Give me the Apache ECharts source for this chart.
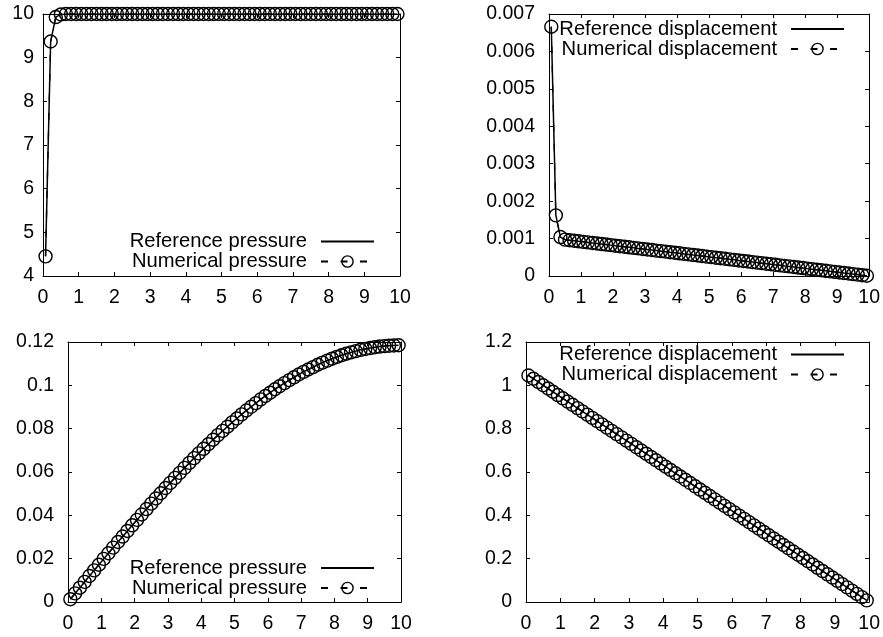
<!DOCTYPE html>
<html>
<head>
<meta charset="utf-8">
<script src="https://cdn.jsdelivr.net/npm/echarts@6/dist/echarts.min.js"></script>
<style>
html,body{margin:0;padding:0;background:#fff;}
#chart{width:883px;height:637px;}
</style>
</head>
<body>
<div id="chart"></div>
<script>
// ---- data ----
const xTicks = [0,1,2,3,4,5,6,7,8,9,10];
const xPts = [0.0714,0.2143,0.3571,0.5,0.6429,0.7857,0.9286,1.0714,1.2143,1.3571,
1.5,1.6429,1.7857,1.9286,2.0714,2.2143,2.3571,2.5,2.6429,2.7857,
2.9286,3.0714,3.2143,3.3571,3.5,3.6429,3.7857,3.9286,4.0714,4.2143,
4.3571,4.5,4.6429,4.7857,4.9286,5.0714,5.2143,5.3571,5.5,5.6429,
5.7857,5.9286,6.0714,6.2143,6.3571,6.5,6.6429,6.7857,6.9286,7.0714,
7.2143,7.3571,7.5,7.6429,7.7857,7.9286,8.0714,8.2143,8.3571,8.5,
8.6429,8.7857,8.9286,9.0714,9.2143,9.3571,9.5,9.6429,9.7857,9.9286];

// top-left: pressure (early time)
const refPressureA = [4.45,9.37,9.93,9.99,10,10,10,10,10,10,
10,10,10,10,10,10,10,10,10,10,10,10,10,10,10,10,10,10,10,10,
10,10,10,10,10,10,10,10,10,10,10,10,10,10,10,10,10,10,10,10,
10,10,10,10,10,10,10,10,10,10,10,10,10,10,10,10,10,10,10,10];
const numPressureA = [4.45,9.37,9.93,9.99,10,10,10,10,10,10,
10,10,10,10,10,10,10,10,10,10,10,10,10,10,10,10,10,10,10,10,
10,10,10,10,10,10,10,10,10,10,10,10,10,10,10,10,10,10,10,10,
10,10,10,10,10,10,10,10,10,10,10,10,10,10,10,10,10,10,10,10];

// top-right: displacement (early time)
const refDispA = [0.00666,0.00162,0.00104,
0.000971,0.000956,0.000942,0.000927,0.000913,0.000898,0.000883,0.000869,0.000854,0.000840,
0.000825,0.000810,0.000796,0.000781,0.000767,0.000752,0.000737,0.000723,0.000708,0.000694,
0.000679,0.000664,0.000650,0.000635,0.000621,0.000606,0.000591,0.000577,0.000562,0.000548,
0.000533,0.000518,0.000504,0.000489,0.000475,0.000460,0.000445,0.000431,0.000416,0.000402,
0.000387,0.000372,0.000358,0.000343,0.000329,0.000314,0.000299,0.000285,0.000270,0.000256,
0.000241,0.000226,0.000212,0.000197,0.000183,0.000168,0.000153,0.000139,0.000124,0.000110,
0.000095,0.000080,0.000066,0.000051,0.000037,0.000022,0.000007];
const numDispA = [0.00666,0.00162,0.00104,
0.000971,0.000956,0.000942,0.000927,0.000913,0.000898,0.000883,0.000869,0.000854,0.000840,
0.000825,0.000810,0.000796,0.000781,0.000767,0.000752,0.000737,0.000723,0.000708,0.000694,
0.000679,0.000664,0.000650,0.000635,0.000621,0.000606,0.000591,0.000577,0.000562,0.000548,
0.000533,0.000518,0.000504,0.000489,0.000475,0.000460,0.000445,0.000431,0.000416,0.000402,
0.000387,0.000372,0.000358,0.000343,0.000329,0.000314,0.000299,0.000285,0.000270,0.000256,
0.000241,0.000226,0.000212,0.000197,0.000183,0.000168,0.000153,0.000139,0.000124,0.000110,
0.000095,0.000080,0.000066,0.000051,0.000037,0.000022,0.000007];

// bottom-left: pressure (late time)
const refPressureB = [0.0013,0.0040,0.0066,0.0093,0.0120,0.0146,0.0172,0.0199,0.0225,0.0251,
0.0277,0.0302,0.0328,0.0354,0.0379,0.0404,0.0429,0.0454,0.0478,0.0502,
0.0526,0.0550,0.0573,0.0596,0.0619,0.0642,0.0664,0.0686,0.0707,0.0728,
0.0749,0.0770,0.0790,0.0809,0.0829,0.0847,0.0866,0.0884,0.0901,0.0918,
0.0935,0.0951,0.0966,0.0982,0.0996,0.1010,0.1024,0.1037,0.1050,0.1062,
0.1073,0.1084,0.1095,0.1105,0.1114,0.1123,0.1131,0.1139,0.1146,0.1152,
0.1158,0.1164,0.1168,0.1172,0.1176,0.1179,0.1181,0.1183,0.1184,0.1185];
const numPressureB = [0.0013,0.0040,0.0066,0.0093,0.0120,0.0146,0.0172,0.0199,0.0225,0.0251,
0.0277,0.0302,0.0328,0.0354,0.0379,0.0404,0.0429,0.0454,0.0478,0.0502,
0.0526,0.0550,0.0573,0.0596,0.0619,0.0642,0.0664,0.0686,0.0707,0.0728,
0.0749,0.0770,0.0790,0.0809,0.0829,0.0847,0.0866,0.0884,0.0901,0.0918,
0.0935,0.0951,0.0966,0.0982,0.0996,0.1010,0.1024,0.1037,0.1050,0.1062,
0.1073,0.1084,0.1095,0.1105,0.1114,0.1123,0.1131,0.1139,0.1146,0.1152,
0.1158,0.1164,0.1168,0.1172,0.1176,0.1179,0.1181,0.1183,0.1184,0.1185];

// bottom-right: displacement (late time)
const refDispB = [1.0455,1.0304,1.0154,1.0003,0.9853,0.9703,0.9552,0.9402,0.9251,0.9101,
0.8950,0.8800,0.8650,0.8499,0.8349,0.8198,0.8048,0.7897,0.7747,0.7597,
0.7446,0.7296,0.7145,0.6995,0.6844,0.6694,0.6544,0.6393,0.6243,0.6092,
0.5942,0.5791,0.5641,0.5491,0.5340,0.5190,0.5039,0.4889,0.4738,0.4588,
0.4438,0.4287,0.4137,0.3986,0.3836,0.3685,0.3535,0.3385,0.3234,0.3084,
0.2933,0.2783,0.2632,0.2482,0.2332,0.2181,0.2031,0.1880,0.1730,0.1579,
0.1429,0.1279,0.1128,0.0978,0.0827,0.0677,0.0526,0.0376,0.0226,0.0075];
const numDispB = [1.0455,1.0304,1.0154,1.0003,0.9853,0.9703,0.9552,0.9402,0.9251,0.9101,
0.8950,0.8800,0.8650,0.8499,0.8349,0.8198,0.8048,0.7897,0.7747,0.7597,
0.7446,0.7296,0.7145,0.6995,0.6844,0.6694,0.6544,0.6393,0.6243,0.6092,
0.5942,0.5791,0.5641,0.5491,0.5340,0.5190,0.5039,0.4889,0.4738,0.4588,
0.4438,0.4287,0.4137,0.3986,0.3836,0.3685,0.3535,0.3385,0.3234,0.3084,
0.2933,0.2783,0.2632,0.2482,0.2332,0.2181,0.2031,0.1880,0.1730,0.1579,
0.1429,0.1279,0.1128,0.0978,0.0827,0.0677,0.0526,0.0376,0.0226,0.0075];

const names = {
  refP: 'Reference pressure', numP: 'Numerical pressure',
  refD: 'Reference displacement', numD: 'Numerical displacement'
};

// ---- styling / layout ----
const FONT = 'Liberation Sans';
const FS = 19.5;
const LFS = 20.2;
const panels = [
  {grid:{left:43, right:483, top:14, bottom:361}, y:{min:4, max:10, interval:1, fmt:v=>String(v), margin:9},
   ref:refPressureA, num:numPressureA, refName:names.refP, numName:names.numP, legend:{right:508, top:231.5}},
  {grid:{left:549, right:13, top:14, bottom:361}, y:{min:0, max:0.007, interval:0.001, fmt:v=>v===0?'0':v.toFixed(3), margin:14},
   ref:refDispA, num:numDispA, refName:names.refD, numName:names.numD, legend:{right:38, top:19}},
  {grid:{left:68, right:482, top:342, bottom:35}, y:{min:0, max:0.12, interval:0.02, fmt:v=>String(+v.toFixed(2)), margin:14},
   ref:refPressureB, num:numPressureB, refName:names.refP, numName:names.numP, legend:{right:508, top:558}},
  {grid:{left:526, right:13, top:342, bottom:35}, y:{min:0, max:1.2, interval:0.2, fmt:v=>String(+v.toFixed(1)), margin:14},
   ref:refDispB, num:numDispB, refName:names.refD, numName:names.numD, legend:{right:38, top:344.5}}
];

const axisLine = {show:true, onZero:false, lineStyle:{color:'#000', width:1}};
const axisTick = {show:true, inside:true, length:4, lineStyle:{color:'#000', width:1}};
const labelStyle = {color:'#000', fontSize:FS, fontFamily:FONT};

const option = {animation:false, backgroundColor:'#fff', grid:[], xAxis:[], yAxis:[], series:[], legend:[]};

panels.forEach((p, i) => {
  option.grid.push(Object.assign({containLabel:false}, p.grid));
  option.xAxis.push({gridIndex:i, type:'value', min:xTicks[0], max:xTicks[xTicks.length-1], interval:1, position:'bottom',
    axisLine, axisTick, splitLine:{show:false}, axisLabel:Object.assign({margin:12}, labelStyle)});
  option.xAxis.push({gridIndex:i, type:'value', min:xTicks[0], max:xTicks[xTicks.length-1], interval:1, position:'top',
    axisLine, axisTick, splitLine:{show:false}, axisLabel:{show:false}});
  option.yAxis.push({gridIndex:i, type:'value', min:p.y.min, max:p.y.max, interval:p.y.interval, position:'left',
    axisLine, axisTick, splitLine:{show:false}, axisLabel:Object.assign({margin:p.y.margin, formatter:p.y.fmt}, labelStyle)});
  option.yAxis.push({gridIndex:i, type:'value', min:p.y.min, max:p.y.max, interval:p.y.interval, position:'right',
    axisLine, axisTick, splitLine:{show:false}, axisLabel:{show:false}});
  option.series.push({type:'line', name:p.refName, xAxisIndex:2*i, yAxisIndex:2*i,
    data:xPts.map((x,k)=>[x, p.ref[k]]), symbol:'none', z:2,
    lineStyle:{color:'#000', width:1.5, type:'solid'}, itemStyle:{color:'#000'}});
  option.series.push({type:'line', name:p.numName, xAxisIndex:2*i, yAxisIndex:2*i,
    data:xPts.map((x,k)=>[x, p.num[k]]), symbol:'circle', symbolSize:13, showAllSymbol:true, z:3,
    lineStyle:{color:'#000', width:1.3, type:[7,12.5]},
    itemStyle:{color:'rgba(0,0,0,0)', borderColor:'#000', borderWidth:1.4}});
  option.legend.push({
    data:[{name:p.refName, itemStyle:{color:'rgba(0,0,0,0)', borderColor:'rgba(0,0,0,0)', borderWidth:0}},
          {name:p.numName}],
    orient:'vertical', align:'right', right:p.legend.right, top:p.legend.top, padding:0,
    itemWidth:53, itemHeight:14, itemGap:0, selectedMode:false,
    itemStyle:{borderWidth:1.4},
    textStyle:{color:'#000', fontSize:LFS, fontFamily:FONT, padding:[0,9,0,0]}
  });
});

const chart = echarts.init(document.getElementById('chart'), null, {renderer:'canvas'});
chart.setOption(option);
</script>
</body>
</html>
